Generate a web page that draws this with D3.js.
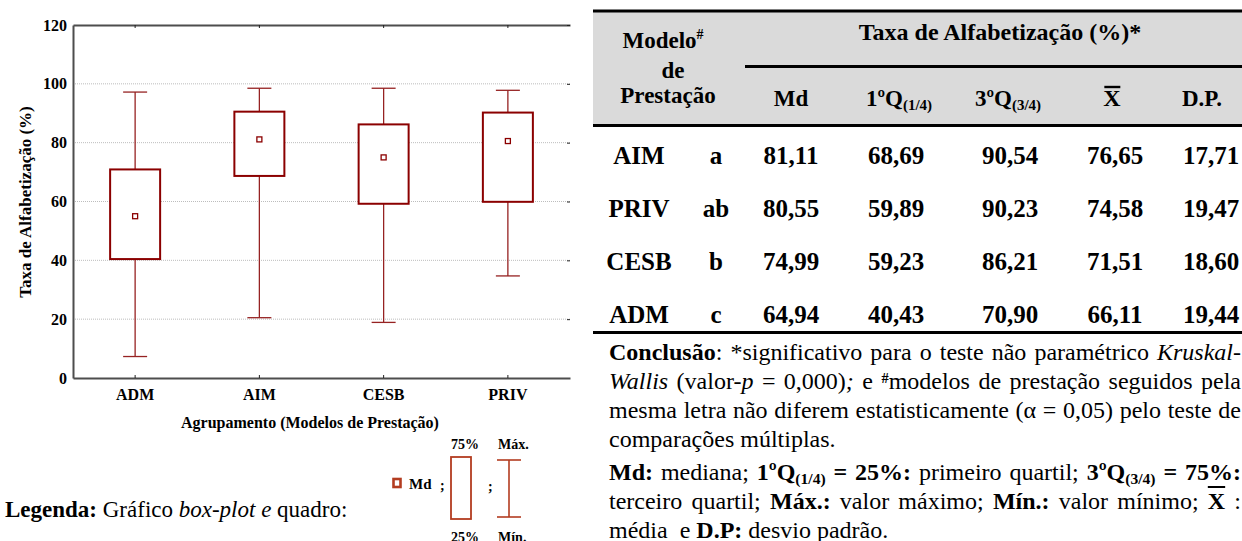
<!DOCTYPE html>
<html>
<head>
<meta charset="utf-8">
<script src="https://cdn.jsdelivr.net/npm/d3@7"></script>
<style>
  body { margin: 0; background: #fff; }
  #page { position: relative; width: 1242px; height: 541px; overflow: hidden;
          font-family: "Liberation Serif", "Times New Roman", serif; color: #000; }
  #page svg { position: absolute; left: 0; top: 0; }
  .note { position: absolute; left: 609px; width: 632px; line-height: 30px;
          text-align: justify; text-align-last: justify; }
  .note.end { text-align: left; text-align-last: left; }
  .note sup { font-size: 0.6em; vertical-align: 0.4em; line-height: 0; font-weight: bold; }
  .note sub { font-size: 0.65em; vertical-align: -0.25em; line-height: 0; }
  .note .bar { text-decoration: overline; text-decoration-thickness: 2px; }
  .measure { display: inline-block; white-space: nowrap; }
</style>
</head>
<body>
<div id="page"></div>
<script>
// ---- box-plot data (literacy rate, %) ----
const categories = ["ADM", "AIM", "CESB", "PRIV"];
const minimum = [7.3, 20.5, 18.9, 34.7];
const q1 = [40.43, 68.69, 59.23, 59.89];
const median = [55.0, 81.11, 74.99, 80.55];
const q3 = [70.90, 90.54, 86.21, 90.23];
const maximum = [97.2, 98.5, 98.5, 97.8];
const yTicks = [0, 20, 40, 60, 80, 100, 120];

// ---- summary table ----
const tableModels = ["AIM", "PRIV", "CESB", "ADM"];
const tableGroups = ["a", "ab", "b", "c"];
const tableMd = ["81,11", "80,55", "74,99", "64,94"];
const tableQ1 = ["68,69", "59,89", "59,23", "40,43"];
const tableQ3 = ["90,54", "90,23", "86,21", "70,90"];
const tableMean = ["76,65", "74,58", "71,51", "66,11"];
const tableSD = ["17,71", "19,47", "18,60", "19,44"];

// ---- notes under the table ----
const conclusionLines = [
  '<b>Conclusão</b>: *significativo para o teste não paramétrico <i>Kruskal-</i>',
  '<i>Wallis</i> (valor-<i>p</i> = 0,000)<i>;</i> e <sup>#</sup>modelos de prestação seguidos pela',
  'mesma letra não diferem estatisticamente (α = 0,05) pelo teste de',
  'comparações múltiplas.'
];
const glossaryLines = [
  '<b>Md:</b> mediana; <b>1ºQ<sub>(1/4)</sub> = 25%:</b> primeiro quartil; <b>3ºQ<sub>(3/4)</sub> = 75%:</b>',
  'terceiro quartil; <b>Máx.:</b> valor máximo; <b>Mín.:</b> valor mínimo; <b class="bar">X</b> :',
  'média &nbsp;e <b>D.P:</b> desvio padrão.'
];

const boxColor = "#8b0000";
const legendColor = "#b33c20";
const axisColor = "#4d4d4d";
const serif = '"Liberation Serif", "Times New Roman", serif';

const page = d3.select("#page");
const svg = page.append("svg").attr("width", 1242).attr("height", 541)
  .style("font-family", serif);

// ================= box plot =================
const area = { left: 73, right: 570, top: 25, bottom: 378 };
const x = d3.scaleBand().domain(categories).range([area.left, area.right]);
const y = d3.scaleLinear().domain([0, 120]).range([area.bottom, area.top]);

// dotted grid
svg.append("g").selectAll("line")
  .data(yTicks.filter(t => t > 0 && t < 120))
  .join("line")
  .attr("x1", area.left).attr("x2", area.right)
  .attr("y1", d => y(d)).attr("y2", d => y(d))
  .attr("stroke", "#bdbdbd").attr("stroke-width", 1).attr("stroke-dasharray", "1,1");

function styleAxis(g, showDomain) {
  g.select(".domain").attr("stroke", showDomain ? axisColor : "none").attr("stroke-width", 2);
  g.selectAll(".tick line").attr("stroke", "#222").attr("stroke-width", 1);
  g.selectAll(".tick text").attr("fill", "#000").attr("font-family", serif)
    .attr("font-weight", "bold").attr("font-size", 16);
}

svg.append("g").attr("transform", `translate(${area.left},0)`)
  .call(d3.axisLeft(y).tickValues(yTicks).tickSizeInner(0).tickSizeOuter(0).tickPadding(6))
  .call(g => styleAxis(g, true));

svg.append("g").attr("transform", `translate(0,${area.bottom})`)
  .call(d3.axisBottom(x).tickSizeInner(-3).tickSizeOuter(0).tickPadding(11))
  .call(g => styleAxis(g, true));

svg.append("g").attr("transform", `translate(0,${area.top})`)
  .call(d3.axisTop(x).tickSizeInner(-3).tickSizeOuter(0).tickFormat(""))
  .call(g => styleAxis(g, true));

svg.append("g").attr("transform", `translate(${area.right},0)`)
  .call(d3.axisRight(y).tickValues(yTicks.filter(t => t > 0)).tickSizeInner(-3).tickSizeOuter(0).tickFormat(""))
  .call(g => styleAxis(g, false));

// axis titles
svg.append("text")
  .attr("transform", `translate(31,202) rotate(-90)`)
  .attr("text-anchor", "middle").attr("font-weight", "bold").attr("font-size", 17)
  .text("Taxa de Alfabetização (%)");

svg.append("text")
  .attr("x", 310).attr("y", 428)
  .attr("text-anchor", "middle").attr("font-weight", "bold").attr("font-size", 16)
  .text("Agrupamento (Modelos de Prestação)");

// boxes
const boxW = 50, capW = 24;
const stats = categories.map((c, i) => ({
  c, min: minimum[i], q1: q1[i], med: median[i], q3: q3[i], max: maximum[i]
}));
const cx = d => x(d.c) + x.bandwidth() / 2;

const gBox = svg.append("g");
gBox.selectAll("line.stem-lo").data(stats).join("line").attr("class", "stem-lo")
  .attr("x1", cx).attr("x2", cx).attr("y1", d => y(d.min)).attr("y2", d => y(d.q1));
gBox.selectAll("line.stem-hi").data(stats).join("line").attr("class", "stem-hi")
  .attr("x1", cx).attr("x2", cx).attr("y1", d => y(d.q3)).attr("y2", d => y(d.max));
gBox.selectAll("line.cap-lo").data(stats).join("line").attr("class", "cap-lo")
  .attr("x1", d => cx(d) - capW / 2).attr("x2", d => cx(d) + capW / 2)
  .attr("y1", d => y(d.min)).attr("y2", d => y(d.min));
gBox.selectAll("line.cap-hi").data(stats).join("line").attr("class", "cap-hi")
  .attr("x1", d => cx(d) - capW / 2).attr("x2", d => cx(d) + capW / 2)
  .attr("y1", d => y(d.max)).attr("y2", d => y(d.max));
gBox.selectAll("line").attr("stroke", "#962222").attr("stroke-width", 1.3);
gBox.selectAll("rect.box").data(stats).join("rect").attr("class", "box")
  .attr("x", d => cx(d) - boxW / 2).attr("width", boxW)
  .attr("y", d => y(d.q3)).attr("height", d => y(d.q1) - y(d.q3))
  .attr("fill", "#fff").attr("stroke", boxColor).attr("stroke-width", 2);
gBox.selectAll("rect.med").data(stats).join("rect").attr("class", "med")
  .attr("x", d => cx(d) - 2.5).attr("y", d => y(d.med) - 2.5)
  .attr("width", 5).attr("height", 5)
  .attr("fill", "#fff").attr("stroke", boxColor).attr("stroke-width", 1.3);

// ================= legend =================
const leg = svg.append("g");
const legText = leg.append("text").attr("x", 5).attr("y", 517).attr("font-size", 23)
  .style("white-space", "pre");
legText.append("tspan").attr("font-weight", "bold").text("Legenda:");
legText.append("tspan").text(" Gráfico ");
legText.append("tspan").attr("font-style", "italic").text("box-plot e");
legText.append("tspan").text(" quadro:");

leg.append("rect").attr("x", 393.5).attr("y", 479).attr("width", 7).attr("height", 8)
  .attr("fill", "#fff").attr("stroke", legendColor).attr("stroke-width", 2.6);
leg.append("text").attr("x", 409).attr("y", 489).attr("font-weight", "bold").attr("font-size", 15).text("Md");
leg.append("text").attr("x", 440).attr("y", 490).attr("font-weight", "bold").attr("font-size", 14).text(";");
leg.append("rect").attr("x", 451).attr("y", 457).attr("width", 20).attr("height", 62)
  .attr("fill", "#fff").attr("stroke", legendColor).attr("stroke-width", 1.8);
leg.append("text").attr("x", 488).attr("y", 491).attr("font-weight", "bold").attr("font-size", 14).text(";");
const wx = 509;
leg.append("line").attr("x1", wx).attr("x2", wx).attr("y1", 460).attr("y2", 517)
  .attr("stroke", legendColor).attr("stroke-width", 1.6);
leg.append("line").attr("x1", wx - 12).attr("x2", wx + 12).attr("y1", 460).attr("y2", 460)
  .attr("stroke", legendColor).attr("stroke-width", 1.6);
leg.append("line").attr("x1", wx - 12).attr("x2", wx + 12).attr("y1", 517).attr("y2", 517)
  .attr("stroke", legendColor).attr("stroke-width", 1.6);
const smallBold = (t, xx, yy, anchor) => leg.append("text").attr("x", xx).attr("y", yy)
  .attr("text-anchor", anchor).attr("font-weight", "bold").attr("font-size", 14).text(t);
smallBold("75%", 465, 449, "middle");
smallBold("25%", 465, 542, "middle");
smallBold("Máx.", 498, 449, "start");
smallBold("Mín.", 498, 542, "start");

// ================= table =================
const tab = svg.append("g");
const tLeft = 593, tRight = 1242;
tab.append("rect").attr("x", tLeft).attr("y", 12).attr("width", tRight - tLeft).attr("height", 112)
  .attr("fill", "#dadada");
const rule = (x1, yy, w) => tab.append("line").attr("x1", x1).attr("x2", tRight)
  .attr("y1", yy).attr("y2", yy).attr("stroke", "#000").attr("stroke-width", w);
rule(tLeft, 11, 3);
rule(745, 66.5, 3);
rule(tLeft, 125.5, 3);
rule(tLeft, 332.5, 3);

const hText = (xx, yy, size) => tab.append("text").attr("x", xx).attr("y", yy)
  .attr("text-anchor", "middle").attr("font-weight", "bold").attr("font-size", size)
  .style("white-space", "pre");

const modelo = hText(663, 48, 23);
modelo.append("tspan").text("Modelo");
modelo.append("tspan").attr("font-size", 14).attr("dy", -9).text("#");
hText(673, 78, 23).text("de");
hText(668, 103, 23).text("Prestação");
hText(1000, 40, 24).text("Taxa de Alfabetização (%)*");

hText(791, 106, 23).text("Md");
[[899, "1ºQ", "(1/4)"], [1008, "3ºQ", "(3/4)"]].forEach(([xx, main, sub]) => {
  const t = hText(xx, 106, 23);
  t.append("tspan").text(main);
  t.append("tspan").attr("font-size", 15).attr("dy", 4).text(sub);
});
const xbar = hText(1112, 106, 24).text("X");
const xb = xbar.node().getBBox();
tab.append("line").attr("x1", xb.x + 1).attr("x2", xb.x + xb.width - 1)
  .attr("y1", 87).attr("y2", 87).attr("stroke", "#000").attr("stroke-width", 2.4);
hText(1202, 106, 23).text("D.P.");

const columns = [tableModels, tableGroups, tableMd, tableQ1, tableQ3, tableMean, tableSD];
const colX = [639, 716, 791, 896, 1010, 1115, 1211];
const rowY = d3.scaleLinear().domain([0, 3]).range([164, 323]);
columns.forEach((col, ci) => {
  tab.append("g").selectAll("text").data(col).join("text")
    .attr("x", colX[ci]).attr("y", (d, i) => rowY(i))
    .attr("text-anchor", "middle").attr("font-weight", "bold").attr("font-size", 25)
    .text(d => d);
});

// ================= notes (justified lines) =================
const noteSize = 24, noteWidth = 632;
const writeLines = (lines, firstBase, step) => lines.forEach((html, i) => {
  const div = page.append("div").attr("class", "note" + (i === lines.length - 1 ? " end" : ""))
    .style("font-size", noteSize + "px");
  // shrink a line only if its natural width would overflow the column
  const probe = div.append("span").attr("class", "measure").html(html);
  const w = probe.node().getBoundingClientRect().width;
  const size = w > noteWidth - 2 ? noteSize * (noteWidth - 2) / w : noteSize;
  probe.remove();
  div.style("font-size", size + "px").html(html);
  // baseline of this line: half-leading + ascent of the serif face
  const base = firstBase + i * step;
  const top = base - (15 - 0.5535 * size + 0.891 * size);
  div.style("top", top + "px");
});
writeLines(conclusionLines, 360, 29);
writeLines(glossaryLines, 480, 29);
</script>
</body>
</html>
